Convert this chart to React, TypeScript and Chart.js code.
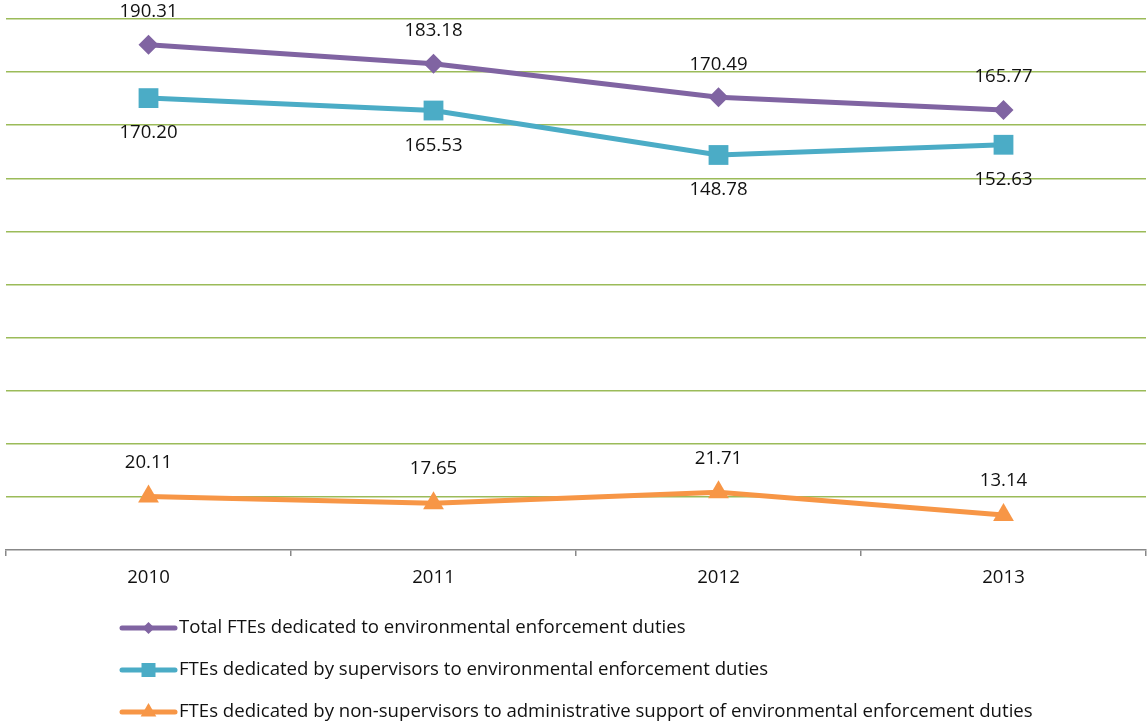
import React, { useEffect, useRef } from "react";
import { Chart, registerables } from "chart.js";

Chart.register(...registerables);

const years = ["2010", "2011", "2012", "2013"];
const totalFtes = [190.31, 183.18, 170.49, 165.77];
const supervisorFtes = [170.2, 165.53, 148.78, 152.63];
const supportFtes = [20.11, 17.65, 21.71, 13.14];

const seriesNames = [
  "Total FTEs dedicated to environmental enforcement duties",
  "FTEs dedicated by supervisors to environmental enforcement duties",
  "FTEs dedicated by non-supervisors to administrative support of environmental enforcement duties",
];

const FONT = "'Open Sans', Lato, sans-serif";
const FONT_SIZE = 18.6;
const PURPLE = "#8064A2";
const CYAN = "#4BACC6";
const ORANGE = "#F79646";

// where each series puts its value label relative to its point
const labelOffsets = [-33, 35, -34];

const valueLabels = {
  id: "valueLabels",
  afterDatasetsDraw(chart: any) {
    const ctx = chart.ctx;
    ctx.save();
    ctx.font = `${FONT_SIZE}px ${FONT}`;
    ctx.fillStyle = "#111";
    ctx.textAlign = "center";
    ctx.textBaseline = "middle";
    chart.data.datasets.forEach((ds: any, i: number) => {
      const meta = chart.getDatasetMeta(i);
      meta.data.forEach((pt: any, j: number) => {
        ctx.fillText(Number(ds.data[j]).toFixed(2), pt.x, pt.y + labelOffsets[i]);
      });
    });
    ctx.restore();
  },
};

function drawMarker(ctx: CanvasRenderingContext2D, style: string, x: number, y: number, r: number) {
  ctx.beginPath();
  if (style === "rectRot") {
    ctx.moveTo(x, y - r);
    ctx.lineTo(x + r, y);
    ctx.lineTo(x, y + r);
    ctx.lineTo(x - r, y);
  } else if (style === "rect") {
    ctx.rect(x - r, y - r, 2 * r, 2 * r);
  } else {
    ctx.moveTo(x, y - r);
    ctx.lineTo(x + r * 0.87, y + r * 0.5);
    ctx.lineTo(x - r * 0.87, y + r * 0.5);
  }
  ctx.closePath();
  ctx.fill();
}

// vertical legend list under the axis, line sample with marker in the middle
const stackedLegend = {
  id: "stackedLegend",
  afterDraw(chart: any) {
    const ctx = chart.ctx;
    const left = 120;
    const sample = 57;
    const firstRow = chart.chartArea.bottom + 78;
    const rowGap = 42;
    const markerSizes = [6, 7, 9];
    ctx.save();
    ctx.font = `${FONT_SIZE}px ${FONT}`;
    ctx.textBaseline = "middle";
    ctx.textAlign = "left";
    chart.data.datasets.forEach((ds: any, i: number) => {
      const y = firstRow + i * rowGap;
      ctx.strokeStyle = ds.borderColor;
      ctx.lineWidth = ds.borderWidth;
      ctx.lineCap = "round";
      ctx.beginPath();
      ctx.moveTo(left + 2, y);
      ctx.lineTo(left + sample - 2, y);
      ctx.stroke();
      ctx.fillStyle = ds.pointBackgroundColor;
      drawMarker(ctx, ds.pointStyle, left + sample / 2, y, markerSizes[i]);
      ctx.fillStyle = "#111";
      ctx.fillText(ds.label, left + sample + 2, y);
    });
    ctx.restore();
  },
};

export default function App() {
  const canvasRef = useRef<HTMLCanvasElement | null>(null);

  useEffect(() => {
    if (!canvasRef.current) return;
    const chart = new Chart(canvasRef.current, {
      type: "line",
      data: {
        labels: years,
        datasets: [
          {
            label: seriesNames[0],
            data: totalFtes,
            borderColor: PURPLE,
            backgroundColor: PURPLE,
            pointBackgroundColor: PURPLE,
            pointBorderWidth: 0,
            borderWidth: 5,
            pointStyle: "rectRot",
            pointRadius: 10,
          },
          {
            label: seriesNames[1],
            data: supervisorFtes,
            borderColor: CYAN,
            backgroundColor: CYAN,
            pointBackgroundColor: CYAN,
            pointBorderWidth: 0,
            borderWidth: 5,
            pointStyle: "rect",
            pointRadius: 14,
          },
          {
            label: seriesNames[2],
            data: supportFtes,
            borderColor: ORANGE,
            backgroundColor: ORANGE,
            pointBackgroundColor: ORANGE,
            pointBorderWidth: 0,
            borderWidth: 5,
            pointStyle: "triangle",
            pointRadius: 12,
          },
        ],
      },
      options: {
        animation: false,
        responsive: true,
        maintainAspectRatio: false,
        layout: { autoPadding: false, padding: { left: 6, right: 2, top: 19, bottom: 137 } },
        plugins: {
          legend: { display: false },
          tooltip: { enabled: false },
        },
        scales: {
          x: {
            offset: true,
            afterFit: (s: any) => {
              s.height = 40;
              s.paddingLeft = 0;
              s.paddingRight = 0;
            },
            grid: {
              offset: true,
              drawOnChartArea: false,
              drawTicks: true,
              tickLength: 6,
              color: "#888888",
              lineWidth: 1.5,
            },
            border: { display: true, color: "#888888", width: 1.5 },
            ticks: {
              color: "#111",
              font: { family: FONT, size: FONT_SIZE },
              padding: 11,
              maxRotation: 0,
            },
          },
          y: {
            min: 0,
            max: 200,
            afterFit: (s: any) => {
              s.width = 0;
              s.paddingTop = 0;
              s.paddingBottom = 0;
            },
            ticks: { display: false, stepSize: 20 },
            border: { display: false },
            grid: {
              drawTicks: false,
              lineWidth: 1.5,
              color: (c: any) => (c.tick && c.tick.value === 0 ? "rgba(0,0,0,0)" : "#9BBB59"),
            },
          },
        },
      },
      plugins: [valueLabels, stackedLegend],
    });
    return () => chart.destroy();
  }, []);

  return (
    <div style={{ position: "fixed", left: 0, top: 0, width: 1148, height: 727, background: "#fff" }}>
      <canvas ref={canvasRef} />
    </div>
  );
}
